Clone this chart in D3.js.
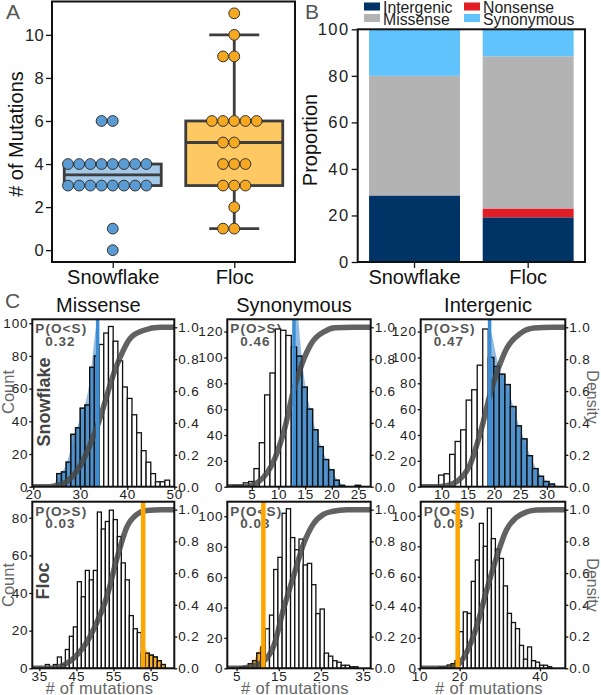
<!DOCTYPE html>
<html><head><meta charset="utf-8">
<script src="https://cdn.jsdelivr.net/npm/d3@7/dist/d3.min.js"></script>
<style>body{margin:0;background:#fff}</style>
</head><body>
<svg id="c" width="601" height="695"></svg>
<script>
// ---------------- DATA ----------------
const groups = ["Snowflake", "Floc"];
const snowflakeMutations = [6,6,4,4,4,4,4,4,4,4,3,3,3,3,3,3,3,3,1,0];
const flocMutations = [11,10,9,9,6,6,6,6,6,5,5,4,4,4,3,3,3,2,1,1];
const mutationTicks = [0,2,4,6,8,10];

const mutationTypes = ["Intergenic","Nonsense","Missense","Synonymous"];
const snowflakeProportion = [28.6, 0, 51.4, 20.0];
const flocProportion = [19.2, 3.8, 65.4, 11.6];
const proportionTicks = [0,20,40,60,80,100];
const legendOrder = ["Intergenic","Nonsense","Missense","Synonymous"];

const cTitles = ["Missense","Synonymous","Intergenic"];
const cRowNames = ["Snowflake","Floc"];
const snowMissenseCounts = [8,9,15,32,36,48,50,73,80,87,94,98,89,77,61,54,44,33,22,15,8,3,3,4];
const snowSynonymousCounts = [1,1,3,4,14,34,71,88,122,121,117,108,101,77,60,44,31,21,13,5,1,0,0,1];
const snowIntergenicCounts = [9,10,25,35,44,67,75,94,122,100,93,87,79,62,47,37,24,14,8,4,2];
const flocMissenseCounts = [2,0,2,6,2,10,17,22,46,38,52,47,52,83,74,78,84,79,70,56,47,28,21,19,8,8,7,6,4,2];
const flocSynonymousCounts = [1,1,3,5,10,14,26,35,65,73,102,105,86,78,85,68,69,55,36,39,10,8,5,4,2,2,1,1];
const flocIntergenicCounts = [1,1,2,3,5,24,37,36,57,71,95,80,105,85,78,72,54,36,30,26,15,6,14,5,4,2,2,1];
const histCounts = [[snowMissenseCounts, snowSynonymousCounts, snowIntergenicCounts],
                    [flocMissenseCounts, flocSynonymousCounts, flocIntergenicCounts]];
const histBinStart = [[25, 1.4, 9.4], [36.63, 5.8, 14.9]];
const histBinWidth = [[1, 1, 1.05], [1.078, 1, 1]];
const observedValues = [[33.7, 12.9, 19.1], [63.0, 11.35, 19.5]];
const pLabels = [["P(O<S)","P(O>S)","P(O>S)"], ["P(O>S)","P(O<S)","P(O<S)"]];
const pValues = [["0.32","0.46","0.47"], ["0.03","0.03","0.03"]];
// cumulative curves: x = # of mutations, y = cumulative density
const cdfX = [
  [[23.5,26.4,29.95,33.5,37.75,40.6,43.4,47], [3.5,6.2,9.35,11.2,12.8,14.4,16.2,18.7,20.6,24], [9.5,12.2,15.4,17.6,19.2,20.8,22.4,24.9,27.5,31]],
  [[38,41.5,49.1,53.2,55.9,58.6,61.3,64,68], [6,8.3,11.4,13.8,16.1,18.5,20.9,23.2,25.6,27.9,31.1], [16.5,19.2,21.7,24.2,26.7,29.2,31.6,34.1,36.6,39.1,44]]];
const cdfY = [
  [[0,0.02,0.13,0.37,0.76,0.93,0.98,1], [0,0.03,0.18,0.37,0.6,0.77,0.9,0.975,0.997,1], [0,0.02,0.14,0.37,0.58,0.745,0.87,0.96,0.995,1]],
  [[0,0.02,0.22,0.45,0.69,0.89,0.97,0.995,1], [0,0.01,0.044,0.14,0.37,0.58,0.785,0.91,0.97,0.99,1], [0,0.015,0.1,0.26,0.49,0.7,0.87,0.95,0.985,0.998,1]]];
const xDomains = [[[19.8,50],[0.4,27.3],[6,33.5]], [[33.1,71.4],[2.8,36.8],[10.3,46.3]]];
const xTickValues = [[[20,30,40,50],[5,10,15,20,25],[10,15,20,25,30]], [[35,45,55,65],[5,15,25,35],[10,20,40]]];
const countMax = [[102.4,129.5,129.5],[88.5,109.6,109.2]];
const countTickValues = [[[0,20,40,60,80,100],[0,20,40,60,80,100,120],[0,20,40,60,80,100,120]],
                         [[0,20,40,60,80],[0,20,40,60,80,100],[0,20,40,60,80,100]]];
const densityTicks = [0,0.2,0.4,0.6,0.8,1.0];
const densityMax = 1.05;

// ---------------- STYLE ----------------
const FONT = "'Liberation Sans', Arial, Helvetica, sans-serif";
const groupColors = {Snowflake: {pt:"#5b9bd3", box:"#a3c8e8"}, Floc: {pt:"#f6a821", box:"#fec862"}};
const typeColors = {Intergenic:"#003366", Nonsense:"#e31d25", Missense:"#b3b3b3", Synonymous:"#61c3fc"};
const svg = d3.select("#c").attr("font-family", FONT);

function styleAxis(g, fs, ls, col) {
  g.attr("font-family", FONT).attr("font-size", fs);
  g.select(".domain").remove();
  g.selectAll(".tick line").attr("stroke", "#111").attr("stroke-width", 1.3);
  g.selectAll(".tick text").attr("fill", col || "#222").attr("letter-spacing", ls);
}
function panelLetter(t, x, y) {
  svg.append("text").attr("x", x).attr("y", y).attr("font-size", 21).attr("fill", "#555").text(t);
}

// ---------------- PANEL A ----------------
(function () {
  const L = 52, R = 295, T = 1.5, B = 262;
  const y = d3.scaleLinear().domain([-0.55, 11.55]).range([B, T]);
  const x = d3.scalePoint().domain(groups).range([L, R]).padding(0.5);
  const g = svg.append("g");
  const data = [snowflakeMutations, flocMutations];
  const boxW = 97, capW = 50, dotR = 5.4, dotStep = 11.2;
  groups.forEach((name, gi) => {
    const vals = data[gi].slice().sort(d3.ascending);
    const q1 = d3.quantile(vals, 0.25), med = d3.quantile(vals, 0.5), q3 = d3.quantile(vals, 0.75);
    const iqr = q3 - q1;
    const lo = d3.min(vals.filter(v => v >= q1 - 1.5 * iqr));
    const hi = d3.max(vals.filter(v => v <= q3 + 1.5 * iqr));
    const cx = x(name);
    const st = "#3d3d3d";
    g.append("line").attr("x1", cx).attr("x2", cx).attr("y1", y(hi)).attr("y2", y(q3)).attr("stroke", st).attr("stroke-width", 2.8);
    g.append("line").attr("x1", cx).attr("x2", cx).attr("y1", y(q1)).attr("y2", y(lo)).attr("stroke", st).attr("stroke-width", 2.8);
    [hi, lo].forEach(v => g.append("line").attr("x1", cx - capW / 2).attr("x2", cx + capW / 2)
      .attr("y1", y(v)).attr("y2", y(v)).attr("stroke", st).attr("stroke-width", 2.8));
    g.append("rect").attr("x", cx - boxW / 2).attr("width", boxW).attr("y", y(q3)).attr("height", y(q1) - y(q3))
      .attr("fill", groupColors[name].box).attr("stroke", st).attr("stroke-width", 2.8);
    g.append("line").attr("x1", cx - boxW / 2).attr("x2", cx + boxW / 2).attr("y1", y(med)).attr("y2", y(med))
      .attr("stroke", st).attr("stroke-width", 2.8);
    const byVal = d3.group(vals, v => v);
    byVal.forEach((arr, v) => {
      arr.forEach((_, k) => {
        const off = k === 0 ? 0 : (k % 2 === 1 ? -Math.ceil(k / 2) : k / 2);
        g.append("circle").attr("cx", cx + off * dotStep).attr("cy", y(v)).attr("r", dotR)
          .attr("fill", groupColors[name].pt).attr("stroke", "#333").attr("stroke-width", 1);
      });
    });
  });
  g.append("rect").attr("x", L).attr("y", T).attr("width", R - L).attr("height", B - T)
    .attr("fill", "none").attr("stroke", "#111").attr("stroke-width", 2);
  const ay = g.append("g").attr("transform", `translate(${L},0)`)
    .call(d3.axisLeft(y).tickValues(mutationTicks).tickSize(6).tickPadding(2));
  styleAxis(ay, 16.5, 0.3);
  const ax = g.append("g").attr("transform", `translate(0,${B})`)
    .call(d3.axisBottom(x).tickSize(6).tickPadding(2));
  styleAxis(ax, 20, 0, "#111");
  g.append("text").attr("transform", `translate(23,134) rotate(-90)`).attr("text-anchor", "middle")
    .attr("font-size", 20).attr("fill", "#111").text("# of Mutations");
  panelLetter("A", 6, 19);
})();

// ---------------- PANEL B ----------------
(function () {
  const L = 357.7, R = 585, T = 29.3, B = 262;
  const y = d3.scaleLinear().domain([0, 100]).range([B, T]);
  const x = d3.scaleBand().domain(groups).range([L, R]).paddingInner(0.2).paddingOuter(0.1);
  const rows = groups.map((gname, i) => {
    const vals = i === 0 ? snowflakeProportion : flocProportion;
    const o = {group: gname};
    mutationTypes.forEach((t, j) => o[t] = vals[j]);
    return o;
  });
  const stack = d3.stack().keys(mutationTypes)(rows);
  const g = svg.append("g");
  stack.forEach(layer => {
    layer.forEach(d => {
      if (d[1] - d[0] <= 0) return;
      g.append("rect").attr("x", x(d.data.group)).attr("width", x.bandwidth())
        .attr("y", y(d[1])).attr("height", y(d[0]) - y(d[1])).attr("fill", typeColors[layer.key]);
    });
  });
  g.append("rect").attr("x", L).attr("y", T).attr("width", R - L).attr("height", B - T)
    .attr("fill", "none").attr("stroke", "#111").attr("stroke-width", 2);
  const ay = g.append("g").attr("transform", `translate(${L},0)`)
    .call(d3.axisLeft(y).tickValues(proportionTicks).tickSize(6).tickPadding(2));
  styleAxis(ay, 16.5, 1.5);
  const ax = g.append("g").attr("transform", `translate(0,${B})`)
    .call(d3.axisBottom(x).tickSize(6).tickPadding(2));
  styleAxis(ax, 20, 0, "#111");
  g.append("text").attr("transform", `translate(317,140) rotate(-90)`).attr("text-anchor", "middle")
    .attr("font-size", 20).attr("fill", "#111").text("Proportion");
  const legX = [364, 464], txtX = [383, 483], rowY = [2.5, 14], txtY = [13.3, 24.8];
  legendOrder.forEach((t, i) => {
    const c = i % 2, r = Math.floor(i / 2);
    g.append("rect").attr("x", legX[c]).attr("y", rowY[r]).attr("width", 16).attr("height", 8)
      .attr("fill", typeColors[t]);
    g.append("text").attr("x", txtX[c]).attr("y", txtY[r]).attr("font-size", 15.8).attr("fill", "#222").text(t);
  });
  panelLetter("B", 305, 19);
})();

// ---------------- PANEL C ----------------
const C_COLS = [[32.3, 174.3], [227.3, 370.7], [420.7, 565.3]];
const C_ROWS = [[319.3, 486.7], [501.7, 668.3]];
const tailColors = [{line:"#3b8ed6", area:"#4a90d0", bar:"#3f86c4"}, {line:"#ffa500", area:"#ffab1a", bar:"#f8a417"}];
let clipId = 0;
function phi(z) { return Math.exp(-0.5 * z * z) / Math.sqrt(2 * Math.PI); }

function drawHist(r, c) {
  const [x0, x1] = C_COLS[c], [y0, y1] = C_ROWS[r];
  const dom = xDomains[r][c];
  const x = d3.scaleLinear().domain(dom).range([x0, x1]);
  const y = d3.scaleLinear().domain([0, countMax[r][c]]).range([y1, y0]);
  const yd = d3.scaleLinear().domain([0, densityMax]).range([y1, y0]);
  const counts = histCounts[r][c], start = histBinStart[r][c], w = histBinWidth[r][c];
  const bins = counts.map((n, i) => ({a: start + i * w, b: start + (i + 1) * w, n}));
  const obs = observedValues[r][c];
  const tailRight = pLabels[r][c].indexOf(">") >= 0;
  const col = tailColors[r];
  const g = svg.append("g");
  const idA = "clipA" + (clipId++), idT = "clipT" + (clipId++);
  const defs = g.append("defs");
  defs.append("clipPath").attr("id", idA).append("rect").attr("x", x0).attr("y", y0).attr("width", x1 - x0).attr("height", y1 - y0);
  const tx0 = tailRight ? x(obs) : x0, tx1 = tailRight ? x1 : x(obs);
  defs.append("clipPath").attr("id", idT).append("rect").attr("x", tx0).attr("y", y0).attr("width", tx1 - tx0).attr("height", y1 - y0);

  g.append("text").attr("x", x0 + 3).attr("y", y0 + 14).attr("font-size", 13.5).attr("font-weight", "bold")
    .attr("letter-spacing", 1.1).attr("fill", "#555").text(pLabels[r][c]);
  g.append("text").attr("x", x0 + 13).attr("y", y0 + 26.5).attr("font-size", 13.5).attr("font-weight", "bold")
    .attr("letter-spacing", 1).attr("fill", "#555").text(pValues[r][c]);

  const inner = g.append("g").attr("clip-path", `url(#${idA})`);
  const drawBars = (sel, fill, op) => sel.selectAll(null).data(bins.filter(d => d.n > 0)).join("rect")
    .attr("x", d => x(d.a)).attr("width", d => x(d.b) - x(d.a))
    .attr("y", d => y(d.n)).attr("height", d => y(0) - y(d.n))
    .attr("fill", fill).attr("fill-opacity", op).attr("stroke", "#111").attr("stroke-width", 1.3);
  drawBars(inner, "#fff", 1);

  const tb = bins.filter(d => tailRight ? (d.a + d.b) / 2 >= obs : (d.a + d.b) / 2 <= obs);
  const h = 0.85 * w;
  const kde = xv => w * d3.sum(tb, d => {
    const m = (d.a + d.b) / 2;
    return d.n * (phi((xv - m) / h) + phi((xv - (2 * obs - m)) / h)) / h;
  });
  const gl = tailRight ? obs : dom[0], gr = tailRight ? dom[1] : obs;
  const grid = d3.range(gl, gr, (gr - gl) / 300).concat([gr]);
  const tailG = inner.append("g").attr("clip-path", `url(#${idT})`);
  tailG.append("path").datum(grid)
    .attr("d", d3.area().x(d => x(d)).y0(y(0)).y1(d => y(kde(d))))
    .attr("fill", col.area).attr("fill-opacity", 0.6);
  drawBars(tailG, col.bar, 0.8);

  const cx = cdfX[r][c], cyv = cdfY[r][c];
  const cdfPts = [[dom[0], 0]].concat(cx.map((v, i) => [v, cyv[i]])).concat([[dom[1], 1]]);
  inner.append("path").datum(cdfPts)
    .attr("d", d3.line().x(d => x(d[0])).y(d => yd(d[1])).curve(d3.curveMonotoneX))
    .attr("fill", "none").attr("stroke", "#474747").attr("stroke-opacity", 0.85)
    .attr("stroke-width", 5.5).attr("stroke-linecap", "round");

  inner.append("line").attr("x1", x(obs)).attr("x2", x(obs)).attr("y1", y0).attr("y2", y1)
    .attr("stroke", col.line).attr("stroke-width", r === 0 ? 3.5 : 4.5);

  g.append("rect").attr("x", x0).attr("y", y0).attr("width", x1 - x0).attr("height", y1 - y0)
    .attr("fill", "none").attr("stroke", "#111").attr("stroke-width", 2);
  const ab = g.append("g").attr("transform", `translate(0,${y1})`)
    .call(d3.axisBottom(x).tickValues(xTickValues[r][c]).tickSize(3).tickPadding(0));
  styleAxis(ab, 13.5, 0.8);
  const al = g.append("g").attr("transform", `translate(${x0},0)`)
    .call(d3.axisLeft(y).tickValues(countTickValues[r][c]).tickSize(3).tickPadding(1));
  styleAxis(al, 13.5, 0.8);
  const ar = g.append("g").attr("transform", `translate(${x1},0)`)
    .call(d3.axisRight(yd).tickValues(densityTicks).tickFormat(d3.format(".1f")).tickSize(3).tickPadding(1));
  styleAxis(ar, 13.5, 0.8);

  if (r === 0) {
    g.append("text").attr("x", (x0 + x1) / 2 - 5).attr("y", 311.5).attr("text-anchor", "middle")
      .attr("font-size", 20).attr("fill", "#111").text(cTitles[c]);
  } else {
    g.append("text").attr("x", (x0 + x1) / 2 - 4).attr("y", 693.5).attr("text-anchor", "middle")
      .attr("font-size", 16.5).attr("letter-spacing", 0.3).attr("fill", "#666").text("# of mutations");
  }
  if (c === 0) {
    g.append("text").attr("transform", `translate(${r === 0 ? 50 : 49},${r === 0 ? 402 : 581}) rotate(-90)`)
      .attr("text-anchor", "middle").attr("font-size", 18).attr("font-weight", "bold")
      .attr("fill", "#444").text(cRowNames[r]);
    g.append("text").attr("transform", `translate(13.5,${r === 0 ? 392 : 585}) rotate(-90)`)
      .attr("text-anchor", "middle").attr("font-size", 16.5).attr("fill", "#666").text("Count");
  }
  if (c === 2) {
    g.append("text").attr("transform", `translate(587,${r === 0 ? 397 : 585}) rotate(90)`)
      .attr("text-anchor", "middle").attr("font-size", 16).attr("fill", "#666").text("Density");
  }
}
for (let r = 0; r < 2; r++) for (let c = 0; c < 3; c++) drawHist(r, c);
panelLetter("C", 5, 308);
</script>
</body></html>
